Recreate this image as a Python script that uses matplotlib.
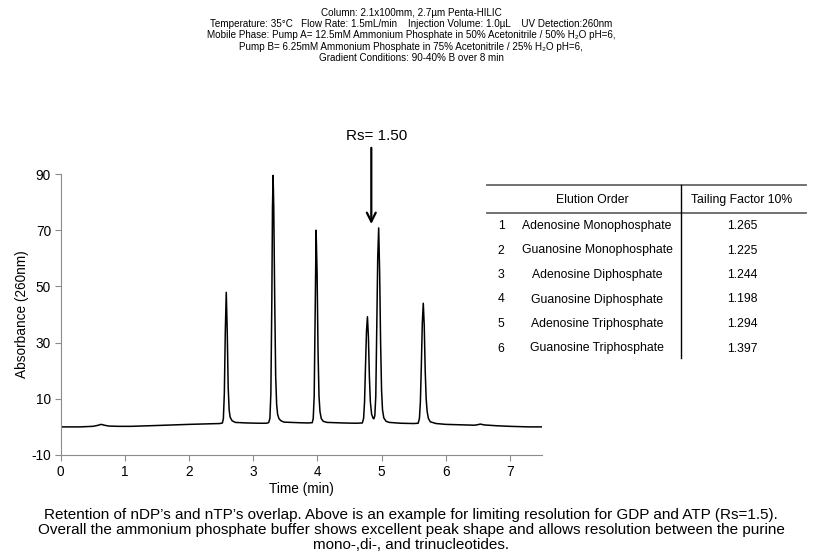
import matplotlib
matplotlib.use("Agg")
import matplotlib.pyplot as plt
from matplotlib.lines import Line2D

plt.rcParams["font.family"] = ["Liberation Sans", "DejaVu Sans"]
plt.rcParams["axes.unicode_minus"] = False

# chromatogram trace (time in min, absorbance)
time = [0.00, 0.30, 0.50, 0.57, 0.63, 0.68, 0.75, 0.90, 1.10, 1.50, 2.00, 2.48,
        2.52, 2.535, 2.55, 2.565, 2.58, 2.595, 2.61, 2.625, 2.64, 2.67, 2.72,
        2.90, 3.10, 3.20, 3.24, 3.26, 3.275, 3.29, 3.30, 3.31, 3.32, 3.335, 3.35,
        3.365, 3.38, 3.40, 3.43, 3.48,
        3.70, 3.85, 3.92, 3.935, 3.95, 3.965, 3.98, 3.995, 4.01, 4.025, 4.04,
        4.06, 4.09, 4.15,
        4.40, 4.60, 4.70, 4.72, 4.735, 4.75, 4.765, 4.78, 4.795, 4.81, 4.825,
        4.845, 4.87, 4.88, 4.895, 4.91, 4.925, 4.94, 4.955, 4.97, 4.985, 5.00,
        5.015, 5.035, 5.07, 5.12, 5.30, 5.50,
        5.57, 5.59, 5.605, 5.62, 5.635, 5.65, 5.665, 5.68, 5.695, 5.71, 5.73,
        5.76, 5.85, 6.00, 6.30, 6.45, 6.50, 6.54, 6.60, 6.80, 7.00, 7.30, 7.50]
absorbance = [0.0, 0.0, 0.2, 0.5, 0.9, 0.6, 0.3, 0.2, 0.2, 0.5, 0.9, 1.2,
              1.4, 3.0, 12.0, 34.0, 47.9, 34.0, 14.0, 6.0, 3.5, 2.2, 1.6,
              1.4, 1.3, 1.3, 1.5, 3.0, 12.0, 45.0, 78.0, 89.5, 78.0, 45.0, 18.0,
              8.0, 4.5, 3.0, 2.2, 1.7,
              1.5, 1.4, 1.5, 3.0, 11.0, 40.0, 70.0, 55.0, 27.0, 11.0, 5.5,
              3.0, 2.0, 1.6,
              1.4, 1.3, 1.4, 3.0, 9.0, 22.0, 34.0, 39.2, 32.0, 18.0, 9.0,
              4.5, 3.0, 2.9, 4.0, 11.0, 35.0, 60.0, 70.8, 55.0, 30.0, 13.0,
              6.0, 3.2, 2.0, 1.6, 1.3, 1.2,
              1.3, 3.0, 9.0, 22.0, 37.0, 44.0, 36.0, 20.0, 10.0, 5.5, 3.0,
              1.8, 1.2, 0.9, 0.7, 0.6, 0.8, 1.0, 0.7, 0.4, 0.2, 0.0, 0.0]

x_ticks = [0, 1, 2, 3, 4, 5, 6, 7]
y_ticks = [-10, 10, 30, 50, 70, 90]

# peak table
elution_order = ["1", "2", "3", "4", "5", "6"]
compounds = ["Adenosine Monophosphate", "Guanosine Monophosphate",
             "Adenosine Diphosphate", "Guanosine Diphosphate",
             "Adenosine Triphosphate", "Guanosine Triphosphate"]
tailing = ["1.265", "1.225", "1.244", "1.198", "1.294", "1.397"]

header_lines = [
    "Column: 2.1x100mm, 2.7µm Penta-HILIC",
    "Temperature: 35°C   Flow Rate: 1.5mL/min    Injection Volume: 1.0µL    UV Detection:260nm",
    "Mobile Phase: Pump A= 12.5mM Ammonium Phosphate in 50% Acetonitrile / 50% H\u2082O pH=6,",
    "Pump B= 6.25mM Ammonium Phosphate in 75% Acetonitrile / 25% H\u2082O pH=6,",
    "Gradient Conditions: 90-40% B over 8 min",
]
caption = ("Retention of nDP\u2019s and nTP\u2019s overlap. Above is an example for limiting resolution for GDP and ATP (Rs=1.5).\n"
           "Overall the ammonium phosphate buffer shows excellent peak shape and allows resolution between the purine\n"
           "mono-,di-, and trinucleotides.")

W, H = 822, 559
fig = plt.figure(figsize=(W / 100, H / 100), dpi=100)

ax = fig.add_axes([60.7 / W, 1 - 455 / H, (542 - 60.7) / W, (455 - 174) / H])
ax.plot(time, absorbance, color="black", lw=1.1)
ax.set_xlim(0, 7.5)
ax.set_ylim(-10, 90)
ax.set_xticks(x_ticks)
ax.set_yticks(y_ticks)
for side in ["top", "right"]:
    ax.spines[side].set_visible(False)
for side in ["left", "bottom"]:
    ax.spines[side].set_color("#8c8c8c")
ax.tick_params(direction="out", length=4, color="#8c8c8c", labelsize=9.8, pad=3)
ax.set_xlabel("Time (min)", fontsize=9.8, labelpad=2)
ax.set_ylabel("Absorbance (260nm)", fontsize=9.8, labelpad=2)

ax.annotate("", xy=(4.84, 71.2), xytext=(4.84, 100.3),
            arrowprops=dict(arrowstyle="->", lw=1.6, color="black", mutation_scale=16),
            annotation_clip=False)
ax.text(4.93, 103.5, "Rs= 1.50", fontsize=11, ha="center", va="center", clip_on=False)

# overlay in pixel coordinates for header, table and caption
ov = fig.add_axes([0, 0, 1, 1])
ov.set_xlim(0, W)
ov.set_ylim(H, 0)
ov.axis("off")

for i, line in enumerate(header_lines):
    ov.text(411, 13 + i * 11.2, line, fontsize=7.1, ha="center", va="center")

ov.add_line(Line2D([487, 806], [185, 185], color="#666666", lw=1.3))
ov.add_line(Line2D([487, 806], [213, 213], color="#666666", lw=1.3))
ov.add_line(Line2D([681, 681], [185, 358], color="black", lw=1.0))
ov.text(592, 200, "Elution Order", fontsize=8.8, ha="center", va="center")
ov.text(742, 200, "Tailing Factor 10%", fontsize=8.8, ha="center", va="center")
for i in range(len(compounds)):
    y = 226 + i * 24.5
    ov.text(501, y, elution_order[i], fontsize=8.8, ha="center", va="center")
    ov.text(597, y, compounds[i], fontsize=8.8, ha="center", va="center")
    ov.text(742, y, tailing[i], fontsize=8.8, ha="center", va="center")

ov.text(411, 530, caption, fontsize=11, ha="center", va="center", linespacing=1.1)

fig.savefig("out.png", dpi=100)
